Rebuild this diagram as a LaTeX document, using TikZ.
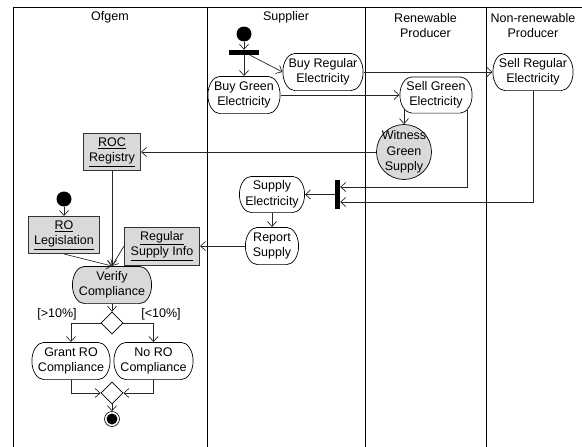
\documentclass[tikz,border=0pt]{standalone}
\usepackage{fontspec}
\setmainfont{Liberation Sans}
\usetikzlibrary{arrows.meta,shapes.geometric,calc}
\begin{document}
\begin{tikzpicture}[x=1pt,y=-1pt,
  font=\fontsize{12.5}{15.5}\selectfont,
  lane/.style={draw=black, line width=0.8pt},
  conn/.style={draw=black!85, line width=0.7pt, -{Straight Barb[length=5pt,width=9pt,line width=0.7pt]}},
  act/.style={rectangle, inner sep=0pt, outer sep=0pt, align=center,
    path picture={
      \coordinate (pNW) at ([xshift=0.4pt,yshift=-0.4pt]path picture bounding box.north west);
      \coordinate (pNE) at ([xshift=-0.4pt,yshift=-0.4pt]path picture bounding box.north east);
      \coordinate (pSW) at ([xshift=0.4pt,yshift=0.4pt]path picture bounding box.south west);
      \coordinate (pSE) at ([xshift=-0.4pt,yshift=0.4pt]path picture bounding box.south east);
      \coordinate (pE) at ($(pNE)!0.5!(pSE)$);
      \coordinate (pW) at ($(pNW)!0.5!(pSW)$);
      \draw[line width=0.7pt, fill=#1]
        ([xshift=12pt]pNW) -- ([xshift=-12pt]pNE)
        .. controls ([xshift=-5.4pt]pNE) and ($(pE)!0.552!(pNE)$) .. (pE)
        .. controls ($(pE)!0.552!(pSE)$) and ([xshift=-5.4pt]pSE) .. ([xshift=-12pt]pSE)
        -- ([xshift=12pt]pSW)
        .. controls ([xshift=5.4pt]pSW) and ($(pW)!0.552!(pSW)$) .. (pW)
        .. controls ($(pW)!0.552!(pNW)$) and ([xshift=5.4pt]pNW) .. ([xshift=12pt]pNW) -- cycle;
    }},
  act/.default=white,
  object/.style={rectangle, draw=black!80, line width=1pt, fill=black!15, inner sep=0pt, align=center},
  startdot/.style={circle, fill=black, minimum size=15pt, inner sep=0pt},
  bar/.style={rectangle, fill=black, inner sep=0pt},
  decision/.style={diamond, draw=black, line width=0.7pt, minimum size=22pt, inner sep=0pt, fill=white},
  title/.style={align=center, inner sep=0pt}
]
\useasboundingbox (0,0) rectangle (582,447);
% swimlanes
\draw[lane] (13,447) -- (13,7) -- (582,7);
\draw[lane] (207,7) -- (207,447);
\draw[lane] (365,7) -- (365,447);
\draw[lane] (486,7) -- (486,447);
\node[title] (tOf) at (110,17) {Ofgem};
\node[title] (tSu) at (286,17) {Supplier};
\node[title] (tRe) at (425.5,25.5) {Renewable\\Producer};
\node[title] (tNr) at (533,25.5) {Non-renewable\\Producer};
% supplier / producers
\node[startdot] (S1) at (244,34) {};
\node[bar, minimum width=30pt, minimum height=5pt] (F) at (244,52.5) {};
\node[act, minimum width=73pt, minimum height=38pt] (BG) at (244,95) {Buy Green\\Electricity};
\node[act, minimum width=81pt, minimum height=38pt] (BR) at (323,72) {Buy Regular\\Electricity};
\node[act, minimum width=73pt, minimum height=37pt] (SG) at (436,95) {Sell Green\\Electricity};
\node[act, minimum width=81pt, minimum height=38pt] (SR) at (533,72) {Sell Regular\\Electricity};
\node[circle, draw=black, line width=0.7pt, fill=black!15, minimum size=55pt, inner sep=0pt] (W) at (404,152)
  {\makebox[0pt]{\begin{tabular}{@{}c@{}}Witness\\Green\\Supply\end{tabular}}};
\node[bar, minimum width=5pt, minimum height=29pt] (J) at (337.5,194.5) {};
\node[act, minimum width=66pt, minimum height=37pt] (SE) at (272,194.5) {Supply\\Electricity};
\node[act, minimum width=54pt, minimum height=38pt] (RS) at (272,246) {Report\\Supply};
% ofgem
\node[object, minimum width=57pt, minimum height=37pt] (ROC) at (112,152) {\underline{ROC}\\\underline{Registry}};
\node[startdot] (S2) at (64,199) {};
\node[object, minimum width=71pt, minimum height=37pt] (ROL) at (64,235) {\underline{RO}\\\underline{Legislation}};
\node[object, minimum width=75pt, minimum height=38pt] (RSI) at (162,246) {\underline{Regular}\\\underline{Supply Info}};
\node[act=black!15, minimum width=80pt, minimum height=38pt] (V) at (112,285) {Verify\\Compliance};
\node[decision] (D1) at (112,323) {};
\node (g1) at (57,314) {[>10\%]};
\node (g2) at (161,314) {[<10\%]};
\node[act, minimum width=79pt, minimum height=38pt] (G) at (71,361) {Grant RO\\Compliance};
\node[act, minimum width=80pt, minimum height=38pt] (NR) at (153.5,361) {No RO\\Compliance};
\node[decision] (D2) at (112,393) {};
\node[circle, draw=black, line width=0.6pt, minimum size=15pt, inner sep=0pt,
  path picture={\fill[black] (path picture bounding box.center) circle (5.5pt);}] (E) at (112,419) {};
% connectors
\draw[conn] (S1) -- (F);
\draw[conn] (F.south) -- (BG.north);
\draw[conn] ([xshift=6pt]F.south) -- (BR.west);
\draw[conn] (BG.east) -- (SG.west);
\draw[conn] (BR.east) -- (SR.west);
\draw[conn] ($(SG.south -| W.north)+(0,-4.5)$) -- (W.north);
\draw[conn] (W.west) -- (ROC.east);
\draw[conn] ($(SG.south east)+(-5,-3.5)$) |- ([yshift=7.5pt]J.east);
\draw[conn] (SR.south) |- ([yshift=-7.5pt]J.east);
\draw[conn] (J.west) -- (SE.east);
\draw[conn] (SE.south) -- (RS.north);
\draw[conn] (RS.west) -- (RSI.east);
\draw[conn] (S2) -- (ROL.north);
\draw[conn] (ROC.south) -- (V.north);
\draw[conn] (ROL.south) -- (V.north);
\draw[conn] (RSI.west) -- (V.north);
\draw[conn] (V.south) -- (D1.north);
\draw[conn] (D1.west) -| (G.north);
\draw[conn] (D1.east) -| (NR.north);
\draw[conn] (G.south) |- (D2.west);
\draw[conn] (NR.south) |- (D2.east);
\draw[conn] (D2.south) -- (E.north);
\end{tikzpicture}
\end{document}
